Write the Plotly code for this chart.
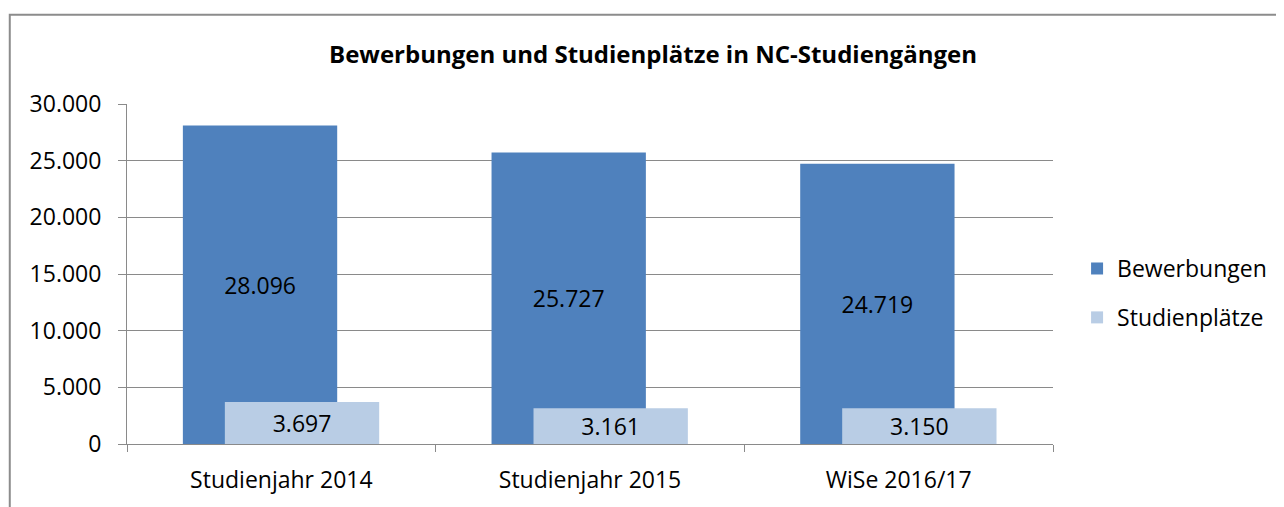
import plotly.graph_objects as go

# Daten
kategorien = ['Studienjahr 2014', 'Studienjahr 2015', 'WiSe 2016/17']
bewerbungen = [28096, 25727, 24719]
studienplaetze = [3697, 3161, 3150]

FONT = 'Open Sans'
GRID = '#8a8a8a'

# the page body has an 8px margin, so the figure is drawn 8px smaller
W, H = 1276, 499

fig = go.Figure()

fig.add_trace(go.Bar(
    x=kategorien, y=bewerbungen, name='Bewerbungen',
    marker=dict(color='#4F81BD', line=dict(width=0)),
    width=0.5, offset=-0.319,
    texttemplate='%{y:,d}', textposition='inside', insidetextanchor='middle',
    textangle=0, constraintext='none',
    textfont=dict(color='black', size=23, family=FONT),
    legendgroup='a',
))
fig.add_trace(go.Bar(
    x=kategorien, y=studienplaetze, name='Studienplätze',
    marker=dict(color='#B9CDE5', line=dict(width=0)),
    width=0.5, offset=-0.183,
    texttemplate='%{y:,d}', textposition='inside', insidetextanchor='middle',
    textangle=0, constraintext='none',
    textfont=dict(color='black', size=23, family=FONT),
    legendgroup='b',
))

# Rahmen um das Diagramm
fig.add_shape(type='rect', xref='paper', yref='paper',
              x0=-0.1266, x1=1.26, y0=-0.2, y1=1.2624,
              line=dict(color='#8c8c8c', width=2), layer='below')

fig.update_layout(
    width=W, height=H,
    margin=dict(l=119, r=229, t=96, b=60),
    paper_bgcolor='white', plot_bgcolor='white',
    barmode='overlay',
    separators=',.',
    font=dict(family=FONT, size=23, color='black'),
    title=dict(text='<b>Bewerbungen und Studienplätze in NC-Studiengängen</b>',
               x=0.5 + 7 / W, xref='container', xanchor='center',
               y=1 - 47 / H, yanchor='middle',
               font=dict(size=24, family=FONT, color='black')),
    xaxis=dict(type='category', range=[-0.5, 2.5],
               showgrid=False, showline=True, linecolor=GRID, linewidth=1,
               ticks='outside', tickson='boundaries', ticklen=7, tickcolor=GRID,
               tickfont=dict(size=23), ticklabelstandoff=15),
    yaxis=dict(range=[0, 30000], tickvals=[0, 5000, 10000, 15000, 20000, 25000, 30000],
               tickformat=',d', showgrid=True, gridcolor=GRID, gridwidth=1,
               showline=True, linecolor=GRID, linewidth=1, zeroline=False,
               ticks='outside', ticklen=8, tickcolor=GRID,
               tickfont=dict(size=23), ticklabelstandoff=12),
    legend=dict(x=1.026, xanchor='left', y=0.444, yanchor='middle',
                font=dict(size=23), tracegroupgap=16, itemclick=False),
    hovermode=False,
)

fig.write_html('out.html')
